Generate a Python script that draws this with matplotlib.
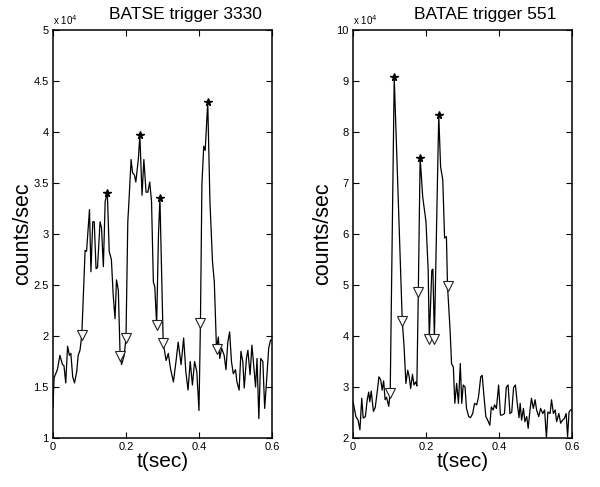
import matplotlib
matplotlib.use('Agg')
import matplotlib.pyplot as plt

plt.rcParams['font.family'] = ['Liberation Sans', 'DejaVu Sans']

# counts/sec in units of 1e4, time in sec
left_t = [0.000, 0.003, 0.012, 0.019, 0.026, 0.030, 0.035, 0.040, 0.045, 0.049,
          0.054, 0.059, 0.065, 0.069, 0.074, 0.079, 0.088, 0.092, 0.100, 0.104,
          0.109, 0.113, 0.118, 0.122, 0.129, 0.133, 0.138, 0.143, 0.149, 0.154,
          0.160, 0.165, 0.170, 0.174, 0.179, 0.184, 0.188, 0.195, 0.200, 0.205,
          0.209, 0.214, 0.218, 0.223, 0.227, 0.234, 0.238, 0.244, 0.249, 0.255,
          0.260, 0.265, 0.270, 0.275, 0.279, 0.284, 0.289, 0.293, 0.302, 0.310,
          0.316, 0.322, 0.330, 0.337, 0.343, 0.351, 0.358, 0.364, 0.370, 0.376,
          0.382, 0.388, 0.394, 0.400, 0.404, 0.408, 0.413, 0.417, 0.424, 0.430,
          0.437, 0.442, 0.448, 0.453, 0.457, 0.462, 0.469, 0.474, 0.479, 0.484,
          0.489, 0.494, 0.500, 0.504, 0.510, 0.515, 0.520, 0.524, 0.530, 0.534,
          0.540, 0.545, 0.549, 0.555, 0.559, 0.564, 0.569, 0.575, 0.580, 0.585,
          0.591, 0.596, 0.600]
left_v = [1.30, 1.59, 1.67, 1.81, 1.72, 1.71, 1.54, 1.90, 1.81, 1.83,
          1.60, 1.54, 1.65, 1.81, 1.86, 2.01, 2.84, 2.83, 3.24, 2.63,
          3.12, 3.12, 2.66, 2.67, 3.12, 3.06, 2.68, 3.32, 3.40, 2.83,
          2.75, 2.40, 2.17, 2.55, 2.45, 1.80, 1.72, 1.81, 1.98, 3.12,
          3.38, 3.73, 3.60, 3.58, 3.51, 3.74, 3.97, 3.38, 3.73, 3.41,
          3.41, 3.51, 3.32, 2.53, 2.48, 2.11, 2.99, 3.35, 1.93, 1.76,
          1.83, 1.68, 1.55, 1.75, 1.94, 1.72, 1.98, 1.65, 1.47, 1.75,
          1.52, 1.75, 1.65, 1.27, 2.13, 3.48, 3.86, 3.82, 4.29, 3.32,
          2.73, 2.53, 1.87, 1.99, 1.78, 1.88, 1.81, 1.67, 1.94, 2.04,
          1.75, 1.63, 1.67, 1.55, 1.47, 1.85, 1.75, 1.49, 1.78, 1.86,
          1.62, 1.91, 1.75, 1.50, 1.78, 1.19, 1.78, 1.75, 1.29, 1.55,
          1.88, 1.96, 1.96]
left_peak_t = [0.149, 0.238, 0.293, 0.424]
left_peak_v = [3.40, 3.97, 3.35, 4.29]
left_valley_t = [0.079, 0.184, 0.200, 0.284, 0.302, 0.404, 0.448]
left_valley_v = [2.01, 1.80, 1.98, 2.11, 1.93, 2.13, 1.87]

right_t = [0.000, 0.008, 0.014, 0.019, 0.024, 0.028, 0.034, 0.039, 0.043, 0.046,
           0.050, 0.056, 0.061, 0.067, 0.071, 0.076, 0.080, 0.084, 0.088, 0.092,
           0.098, 0.102, 0.113, 0.135, 0.140, 0.145, 0.150, 0.154, 0.158, 0.163,
           0.167, 0.172, 0.175, 0.179, 0.184, 0.191, 0.200, 0.206, 0.209, 0.216,
           0.219, 0.223, 0.235, 0.240, 0.246, 0.251, 0.256, 0.259, 0.266, 0.270,
           0.275, 0.279, 0.284, 0.289, 0.294, 0.298, 0.302, 0.307, 0.311, 0.317,
           0.322, 0.328, 0.333, 0.339, 0.344, 0.350, 0.354, 0.359, 0.364, 0.369,
           0.375, 0.379, 0.384, 0.388, 0.393, 0.399, 0.404, 0.409, 0.415, 0.420,
           0.425, 0.430, 0.435, 0.440, 0.445, 0.450, 0.455, 0.458, 0.462, 0.467,
           0.471, 0.476, 0.480, 0.485, 0.489, 0.494, 0.499, 0.503, 0.509, 0.514,
           0.520, 0.525, 0.530, 0.534, 0.540, 0.544, 0.549, 0.554, 0.558, 0.564,
           0.569, 0.574, 0.579, 0.584, 0.588, 0.592, 0.596, 0.600]
right_v = [2.72, 2.42, 2.35, 2.16, 2.78, 2.39, 2.42, 2.75, 2.90, 2.71,
           2.92, 2.52, 2.60, 2.94, 3.20, 3.14, 2.94, 3.12, 2.75, 2.80,
           2.62, 2.89, 9.07, 4.30, 3.79, 3.07, 3.33, 3.20, 2.97, 3.25,
           3.04, 3.10, 3.02, 4.87, 7.50, 6.73, 6.24, 5.29, 3.95, 5.29,
           5.31, 3.95, 8.33, 7.32, 7.06, 5.92, 5.95, 4.98, 4.12, 3.46,
           3.39, 2.68, 3.07, 2.68, 3.46, 2.68, 3.04, 3.00, 2.58, 2.42,
           2.40, 2.48, 2.68, 2.65, 2.81, 3.20, 3.23, 2.81, 2.42, 2.35,
           2.25, 2.61, 2.55, 2.65, 2.58, 3.04, 2.45, 2.45, 2.48, 2.99,
           3.04, 2.48, 2.51, 2.99, 3.04, 2.68, 2.40, 2.68, 2.35, 2.58,
           2.32, 2.42, 2.19, 2.55, 2.78, 2.58, 2.75, 2.55, 2.42, 2.58,
           2.48, 2.55, 2.00, 2.51, 2.48, 2.75, 2.48, 2.55, 2.32, 2.48,
           2.29, 2.35, 2.38, 2.48, 2.03, 2.51, 2.55, 2.55]
right_peak_t = [0.113, 0.184, 0.235]
right_peak_v = [9.07, 7.50, 8.33]
right_valley_t = [0.102, 0.135, 0.179, 0.209, 0.223, 0.259]
right_valley_v = [2.89, 4.30, 4.87, 3.95, 3.95, 4.98]

titles = ['BATSE trigger 3330', 'BATAE trigger 551']
y_limits = [(1, 5), (2, 10)]
y_ticks = [[1, 1.5, 2, 2.5, 3, 3.5, 4, 4.5, 5], [2, 3, 4, 5, 6, 7, 8, 9, 10]]
x_ticks = [0, 0.2, 0.4, 0.6]

fig = plt.figure(figsize=(6, 4.87), dpi=100)
ax_left = fig.add_axes([0.0883, 0.1006, 0.365, 0.8378])
ax_right = fig.add_axes([0.5883, 0.1006, 0.365, 0.8378])

panels = [
    (ax_left, left_t, left_v, left_peak_t, left_peak_v, left_valley_t, left_valley_v),
    (ax_right, right_t, right_v, right_peak_t, right_peak_v, right_valley_t, right_valley_v),
]

for i, (ax, t, v, pt, pv, vt, vv) in enumerate(panels):
    ax.plot(t, v, color='k', lw=0.9)
    ax.plot(vt, vv, linestyle='none', marker='v', markersize=6.5,
            markerfacecolor='white', markeredgecolor='#222222', markeredgewidth=0.8)
    ax.plot(pt, pv, linestyle='none', marker='*', markersize=5.5, color='k')

    ax.set_xlim(0, 0.6)
    ax.set_ylim(*y_limits[i])
    ax.set_xticks(x_ticks)
    ax.set_xticklabels(['0', '0.2', '0.4', '0.6'])
    ax.set_yticks(y_ticks[i])
    ax.set_yticklabels(['%g' % y for y in y_ticks[i]])
    ax.tick_params(direction='in', top=True, right=True, length=4, width=0.8,
                   labelsize=8, pad=3)
    for s in ax.spines.values():
        s.set_linewidth(1.1)

    ax.text(0, 1.008, r'x 10$^4$', transform=ax.transAxes, ha='left', va='bottom',
            fontsize=7)
    ax.text(0.605, 1.038, titles[i], transform=ax.transAxes, ha='center',
            va='center', fontsize=12.5)
    ax.set_xlabel('t(sec)', fontsize=15)
    ax.xaxis.set_label_coords(0.5, -0.034)
    ax.xaxis.label.set_va('top')
    ax.set_ylabel('counts/sec', fontsize=15.5)
    ax.yaxis.set_label_coords(-0.092, 0.5)

fig.savefig('out.png', dpi=100)
